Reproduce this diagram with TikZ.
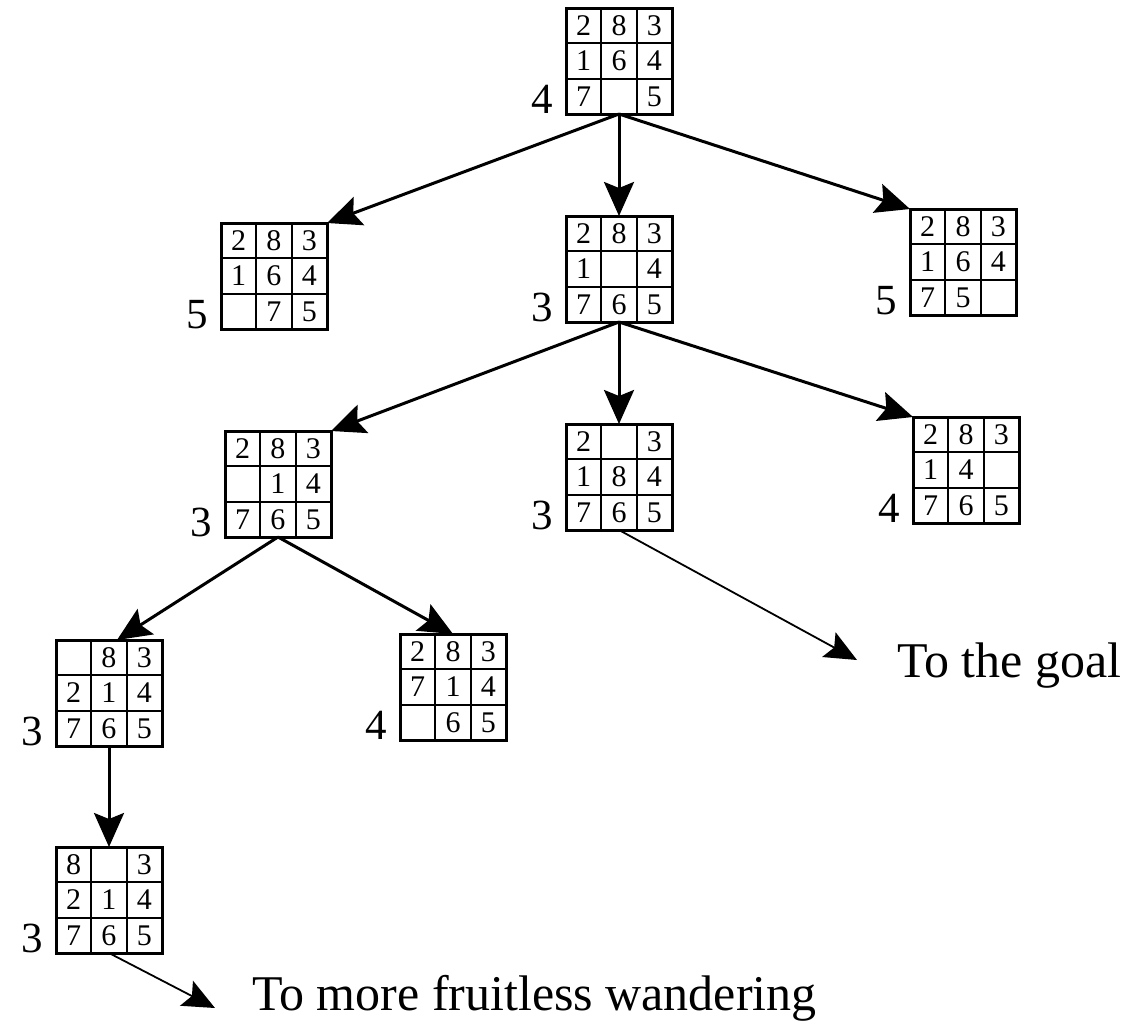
\documentclass[tikz,border=0pt]{standalone}
\usepackage{fontspec}
\setmainfont{Liberation Serif}
\usetikzlibrary{arrows.meta,calc}
\tikzset{
  boardbox/.style={draw, line width=3pt, minimum width=106pt, minimum height=106pt, inner sep=0pt, outer sep=0pt},
  cellnum/.style={font=\fontsize{30}{30}\selectfont, inner sep=0pt},
  hval/.style={font=\fontsize{43}{43}\selectfont, anchor=base east, inner sep=0pt},
  treearrow/.style={line width=3pt, -{Stealth[length=34pt,width=30pt,inset=6pt]}},
  goarrow/.style={line width=1.8pt, -{Stealth[length=32pt,width=28pt,inset=6pt]}},
  caption/.style={font=\fontsize{50}{50}\selectfont, anchor=base west, inner sep=0pt},
  gridline/.style={line width=2pt}
}
\newcommand\puzzle[4]{%
  \node[boardbox] (#1) at (#2) {};
  \draw[gridline] ($(#1.north west)+(35.33,0)$) -- ($(#1.south west)+(35.33,0)$);
  \draw[gridline] ($(#1.north west)+(70.67,0)$) -- ($(#1.south west)+(70.67,0)$);
  \draw[gridline] ($(#1.north west)+(0,35.33)$) -- ($(#1.north east)+(0,35.33)$);
  \draw[gridline] ($(#1.north west)+(0,70.67)$) -- ($(#1.north east)+(0,70.67)$);
  \foreach \d [count=\i from 0] in {#4} {
    \pgfmathtruncatemacro\rr{\i/3}
    \pgfmathtruncatemacro\cc{mod(\i,3)}
    \node[cellnum] (#1-\i) at ($(#1.north west)+({(\cc+0.5)*35.33},{(\rr+0.5)*35.33})$) {\ifnum\d=0 \else\d\fi};
  }
  \node[hval] (#1-h) at ($(#1.south west)+(-13,-1)$) {#3};
}
\begin{document}
\begin{tikzpicture}[x=1pt,y=-1pt]
\useasboundingbox (0,0) rectangle (1142,1023);
\fill[white] (0,0) rectangle (1142,1023);
\puzzle{B1}{619,61}{4}{2,8,3,1,6,4,7,0,5}
\puzzle{B2}{274,276}{5}{2,8,3,1,6,4,0,7,5}
\puzzle{B3}{619,269}{3}{2,8,3,1,0,4,7,6,5}
\puzzle{B4}{963,262}{5}{2,8,3,1,6,4,7,5,0}
\puzzle{B5}{278,484}{3}{2,8,3,0,1,4,7,6,5}
\puzzle{B6}{619,477}{3}{2,0,3,1,8,4,7,6,5}
\puzzle{B7}{966,470}{4}{2,8,3,1,4,0,7,6,5}
\puzzle{B8}{109,693}{3}{0,8,3,2,1,4,7,6,5}
\puzzle{B9}{453,687}{4}{2,8,3,7,1,4,0,6,5}
\puzzle{B10}{109,900}{3}{8,0,3,2,1,4,7,6,5}
\draw[treearrow] (B1.south) -- (B2.north east);
\draw[treearrow] (B1.south) -- (B3.north);
\draw[treearrow] (B1.south) -- (B4.north west);
\draw[treearrow] (B3.south) -- (B5.north east);
\draw[treearrow] (B3.south) -- (B6.north);
\draw[treearrow] (B3.south) -- (B7.north west);
\draw[treearrow] (B5.south) -- ($(B8.north)+(8,0)$);
\draw[treearrow] (B5.south) -- (B9.north);
\draw[treearrow] (B8.south) -- (B10.north);
\coordinate (goalTip) at (857,660);
\draw[goarrow] (B6.south) -- (goalTip);
\node[caption] (goal) at (897,677) {To the goal};
\coordinate (wanderTip) at (215,1008);
\draw[goarrow] (B10.south) -- (wanderTip);
\node[caption] (wander) at (252,1010) {To more fruitless wandering};
\end{tikzpicture}
\end{document}
